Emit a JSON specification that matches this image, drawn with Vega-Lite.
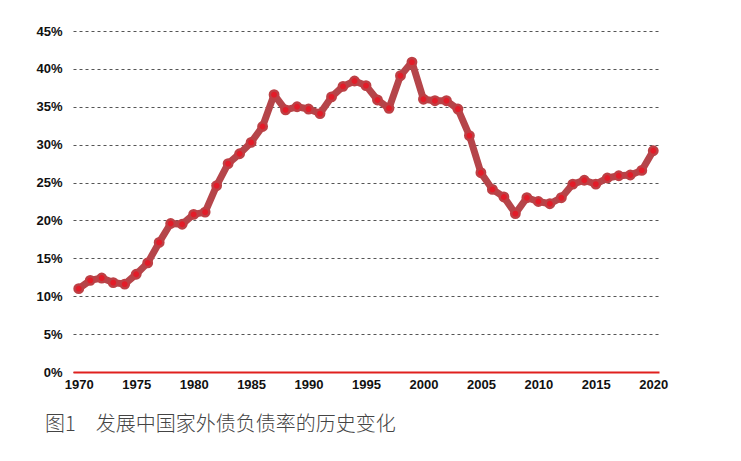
{
  "$schema": "https://vega.github.io/schema/vega-lite/v6.json",
  "width": 586,
  "height": 341,
  "autosize": "none",
  "padding": {"left": 73, "top": 31, "right": 82, "bottom": 89},
  "background": "white",
  "config": {"view": {"stroke": null}},
  "title": {
    "text": "图1\u3000发展中国家外债负债率的历史变化",
    "orient": "bottom",
    "anchor": "start",
    "frame": "group",
    "dx": -28,
    "offset": 24,
    "font": "Noto Sans CJK SC",
    "fontSize": 20,
    "fontWeight": 300,
    "color": "#444444"
  },
  "data": {
    "values": [
      {"year": 1970, "ratio": 0.110},
      {"year": 1971, "ratio": 0.121},
      {"year": 1972, "ratio": 0.124},
      {"year": 1973, "ratio": 0.118},
      {"year": 1974, "ratio": 0.116},
      {"year": 1975, "ratio": 0.129},
      {"year": 1976, "ratio": 0.144},
      {"year": 1977, "ratio": 0.171},
      {"year": 1978, "ratio": 0.196},
      {"year": 1979, "ratio": 0.195},
      {"year": 1980, "ratio": 0.208},
      {"year": 1981, "ratio": 0.211},
      {"year": 1982, "ratio": 0.246},
      {"year": 1983, "ratio": 0.275},
      {"year": 1984, "ratio": 0.288},
      {"year": 1985, "ratio": 0.303},
      {"year": 1986, "ratio": 0.324},
      {"year": 1987, "ratio": 0.366},
      {"year": 1988, "ratio": 0.346},
      {"year": 1989, "ratio": 0.350},
      {"year": 1990, "ratio": 0.347},
      {"year": 1991, "ratio": 0.341},
      {"year": 1992, "ratio": 0.363},
      {"year": 1993, "ratio": 0.377},
      {"year": 1994, "ratio": 0.384},
      {"year": 1995, "ratio": 0.378},
      {"year": 1996, "ratio": 0.359},
      {"year": 1997, "ratio": 0.348},
      {"year": 1998, "ratio": 0.391},
      {"year": 1999, "ratio": 0.409},
      {"year": 2000, "ratio": 0.360},
      {"year": 2001, "ratio": 0.358},
      {"year": 2002, "ratio": 0.358},
      {"year": 2003, "ratio": 0.347},
      {"year": 2004, "ratio": 0.312},
      {"year": 2005, "ratio": 0.263},
      {"year": 2006, "ratio": 0.241},
      {"year": 2007, "ratio": 0.231},
      {"year": 2008, "ratio": 0.209},
      {"year": 2009, "ratio": 0.230},
      {"year": 2010, "ratio": 0.225},
      {"year": 2011, "ratio": 0.222},
      {"year": 2012, "ratio": 0.230},
      {"year": 2013, "ratio": 0.248},
      {"year": 2014, "ratio": 0.253},
      {"year": 2015, "ratio": 0.248},
      {"year": 2016, "ratio": 0.256},
      {"year": 2017, "ratio": 0.259},
      {"year": 2018, "ratio": 0.260},
      {"year": 2019, "ratio": 0.266},
      {"year": 2020, "ratio": 0.292}
    ]
  },
  "encoding": {
    "x": {
      "field": "year",
      "type": "quantitative",
      "scale": {"domain": [1969.5, 2020.5], "nice": false, "zero": false},
      "axis": {
        "title": null,
        "values": [1970, 1975, 1980, 1985, 1990, 1995, 2000, 2005, 2010, 2015, 2020],
        "format": "d",
        "grid": false,
        "ticks": false,
        "domainColor": "#E0201E",
        "domainWidth": 2,
        "labelFont": "Liberation Sans",
        "labelFontWeight": "bold",
        "labelFontSize": 13,
        "labelColor": "#111111",
        "labelPadding": 6,
        "labelFlush": false,
        "zindex": 1
      }
    },
    "y": {
      "field": "ratio",
      "type": "quantitative",
      "scale": {"domain": [0, 0.45], "nice": false},
      "axis": {
        "title": null,
        "values": [0, 0.05, 0.1, 0.15, 0.2, 0.25, 0.3, 0.35, 0.4, 0.45],
        "format": ".0%",
        "domain": false,
        "ticks": false,
        "grid": true,
        "gridColor": "#555555",
        "gridDash": [3, 3],
        "gridWidth": 1,
        "labelFont": "Liberation Sans",
        "labelFontWeight": "bold",
        "labelFontSize": 13,
        "labelColor": "#111111",
        "labelPadding": 11
      }
    }
  },
  "layer": [
    {"mark": {"type": "line", "color": "#B5454A", "strokeWidth": 7, "strokeJoin": "round", "strokeCap": "round"}},
    {"mark": {"type": "point", "filled": true, "fill": "#E31B28", "stroke": "#BC4045", "strokeWidth": 2.5, "size": 70, "opacity": 1}}
  ]
}
